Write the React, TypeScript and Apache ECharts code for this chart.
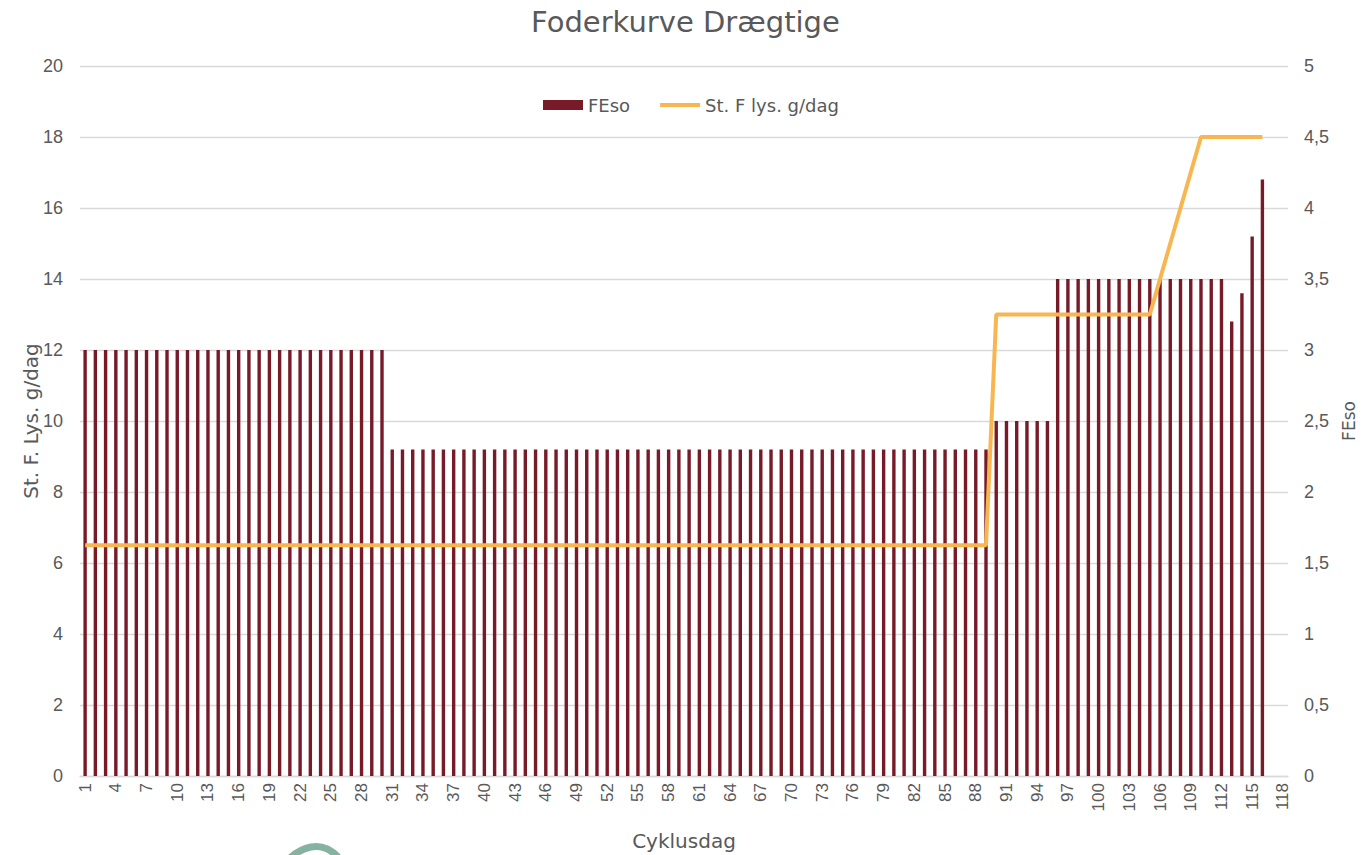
import React, { useEffect, useRef } from "react";
import * as echarts from "echarts";

const title = "Foderkurve Drægtige";
const xAxisName = "Cyklusdag";
const leftAxisName = "St. F. Lys. g/dag";
const rightAxisName = "FEso";
const barName = "FEso";
const lineName = "St. F lys. g/dag";

// Cycle days 1..118
const days: string[] = Array.from({ length: 118 }, (_, i) => String(i + 1));

// FEso per day (right axis), days 1..118
const feso: (number | null)[] = [
  3, 3, 3, 3, 3, 3, 3, 3, 3, 3,
  3, 3, 3, 3, 3, 3, 3, 3, 3, 3,
  3, 3, 3, 3, 3, 3, 3, 3, 3, 3,
  2.3, 2.3, 2.3, 2.3, 2.3, 2.3, 2.3, 2.3, 2.3, 2.3,
  2.3, 2.3, 2.3, 2.3, 2.3, 2.3, 2.3, 2.3, 2.3, 2.3,
  2.3, 2.3, 2.3, 2.3, 2.3, 2.3, 2.3, 2.3, 2.3, 2.3,
  2.3, 2.3, 2.3, 2.3, 2.3, 2.3, 2.3, 2.3, 2.3, 2.3,
  2.3, 2.3, 2.3, 2.3, 2.3, 2.3, 2.3, 2.3, 2.3, 2.3,
  2.3, 2.3, 2.3, 2.3, 2.3, 2.3, 2.3, 2.3, 2.3, 2.5,
  2.5, 2.5, 2.5, 2.5, 2.5, 3.5, 3.5, 3.5, 3.5, 3.5,
  3.5, 3.5, 3.5, 3.5, 3.5, 3.5, 3.5, 3.5, 3.5, 3.5,
  3.5, 3.5, 3.2, 3.4, 3.8, 4.2, null, null,
];

// St. F lys. g/dag per day (left axis), days 1..118
const lysin: (number | null)[] = [
  6.5, 6.5, 6.5, 6.5, 6.5, 6.5, 6.5, 6.5, 6.5, 6.5,
  6.5, 6.5, 6.5, 6.5, 6.5, 6.5, 6.5, 6.5, 6.5, 6.5,
  6.5, 6.5, 6.5, 6.5, 6.5, 6.5, 6.5, 6.5, 6.5, 6.5,
  6.5, 6.5, 6.5, 6.5, 6.5, 6.5, 6.5, 6.5, 6.5, 6.5,
  6.5, 6.5, 6.5, 6.5, 6.5, 6.5, 6.5, 6.5, 6.5, 6.5,
  6.5, 6.5, 6.5, 6.5, 6.5, 6.5, 6.5, 6.5, 6.5, 6.5,
  6.5, 6.5, 6.5, 6.5, 6.5, 6.5, 6.5, 6.5, 6.5, 6.5,
  6.5, 6.5, 6.5, 6.5, 6.5, 6.5, 6.5, 6.5, 6.5, 6.5,
  6.5, 6.5, 6.5, 6.5, 6.5, 6.5, 6.5, 6.5, 6.5, 13,
  13, 13, 13, 13, 13, 13, 13, 13, 13, 13,
  13, 13, 13, 13, 13, 14, 15, 16, 17, 18,
  18, 18, 18, 18, 18, 18, null, null,
];

const leftTicks = { min: 0, max: 20, interval: 2 };
const rightTicks = { min: 0, max: 5, interval: 0.5 };

const textColor = "#595959";
const axisFont = "'Liberation Sans', Arial, sans-serif";
const wideFont = "'DejaVu Sans', 'Open Sans', sans-serif";

export default function App() {
  const ref = useRef<HTMLDivElement>(null);

  useEffect(() => {
    if (!ref.current) return;
    const chart = echarts.init(ref.current, null, { renderer: "svg" });
    chart.setOption({
      animation: false,
      backgroundColor: "#ffffff",
      title: {
        text: title,
        left: 526,
        top: 2,
        textStyle: {
          color: textColor,
          fontSize: 29,
          fontWeight: "normal",
          fontFamily: wideFont,
        },
      },
      legend: {
        top: 91,
        left: 538,
        itemWidth: 40,
        itemHeight: 10,
        itemGap: 28,
        textStyle: { color: textColor, fontSize: 18, fontFamily: wideFont },
        data: [
          { name: barName, icon: "rect" },
          { name: lineName, itemStyle: { opacity: 0 }, lineStyle: { width: 4 } },
        ],
      },
      grid: {
        left: 80,
        right: 76,
        top: 66,
        height: 710,
        containLabel: false,
        outerBoundsMode: "none",
      },
      xAxis: {
        type: "category",
        data: days,
        name: xAxisName,
        nameLocation: "middle",
        nameGap: 55,
        nameTextStyle: { color: textColor, fontSize: 20, fontFamily: wideFont },
        axisLine: { lineStyle: { color: "#d9d9d9", width: 1.3 } },
        axisTick: { show: false },
        axisLabel: {
          interval: 2,
          rotate: 90,
          color: textColor,
          fontSize: 17,
          fontFamily: axisFont,
          margin: 7,
        },
      },
      yAxis: [
        {
          type: "value",
          ...leftTicks,
          name: leftAxisName,
          nameLocation: "middle",
          nameRotate: 90,
          nameGap: 39,
          nameMoveOverlap: false,
          nameTextStyle: { color: textColor, fontSize: 20, fontFamily: wideFont },
          axisLine: { show: false },
          axisTick: { show: false },
          axisLabel: { color: textColor, fontSize: 18, fontFamily: axisFont, margin: 17 },
          splitLine: { lineStyle: { color: "#d9d9d9", width: 1.3 } },
        },
        {
          type: "value",
          ...rightTicks,
          position: "right",
          name: rightAxisName,
          nameLocation: "middle",
          nameRotate: 90,
          nameGap: 52,
          nameTextStyle: { color: textColor, fontSize: 17, fontFamily: wideFont },
          axisLine: { show: false },
          axisTick: { show: false },
          axisLabel: {
            color: textColor,
            fontSize: 18,
            fontFamily: axisFont,
            margin: 16,
            formatter: (v: number) => String(v).replace(".", ","),
          },
          splitLine: { show: false },
        },
      ],
      series: [
        {
          name: barName,
          type: "bar",
          yAxisIndex: 1,
          data: feso,
          barWidth: 3.4,
          itemStyle: { color: "#781b29" },
        },
        {
          name: lineName,
          type: "line",
          yAxisIndex: 0,
          data: lysin,
          showSymbol: false,
          symbol: "none",
          lineStyle: { color: "#f8b651", width: 4 },
          itemStyle: { color: "#f8b651" },
          z: 3,
        },
      ],
      graphic: [
        {
          type: "bezierCurve",
          shape: { x1: 290, y1: 858, cpx1: 300, cpy1: 849, cpx2: 320, cpy2: 838, x2: 338, y2: 857 },
          style: { stroke: "#86b3a1", lineWidth: 7, fill: "none" },
        },
      ],
    });
    return () => chart.dispose();
  }, []);

  return (
    <div
      ref={ref}
      style={{ position: "fixed", left: 0, top: 0, width: 1364, height: 855 }}
    />
  );
}
